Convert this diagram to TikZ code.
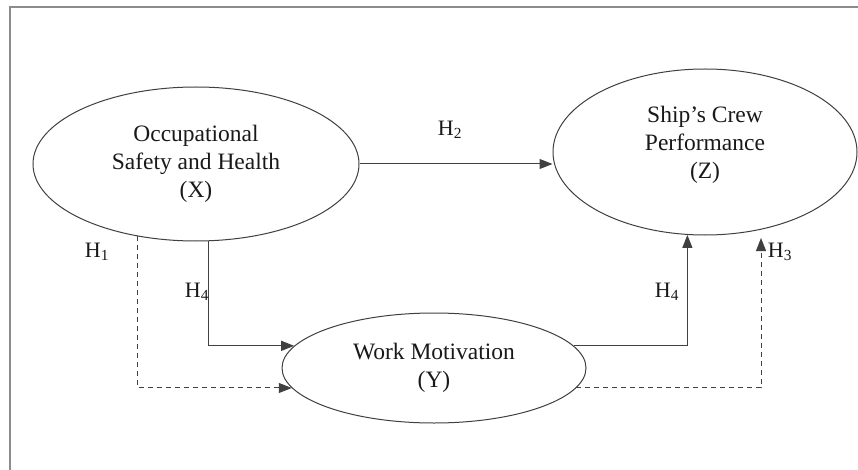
\documentclass[tikz,border=0pt]{standalone}
\usepackage{fontspec}
\setmainfont{Liberation Serif}
\usetikzlibrary{shapes.geometric,arrows.meta}

\tikzset{
  construct/.style={ellipse, draw=black!75, line width=1pt, inner sep=0pt,
    align=center, text=black!90, font=\fontsize{23.5}{28}\selectfont},
  caption/.style={align=center, text=black!90, inner sep=0pt,
    font=\fontsize{23.5}{28}\selectfont},
  link/.style={draw=black!75, line width=1pt,
    -{Triangle[length=13pt,width=10pt]}},
  linkdash/.style={link, dash pattern=on 5pt off 4pt},
  hyp/.style={text=black!90, font=\fontsize{22}{26}\selectfont, inner sep=0pt},
}

\begin{document}
\begin{tikzpicture}[x=1pt,y=-1pt]
  \useasboundingbox (0,0) rectangle (858,470);
  \fill[white] (0,0) rectangle (858,470);

  % open frame: top and left rules only
  \draw[black!45, line width=2pt] (10,470) -- (10,7) -- (858,7);

  % constructs
  \node[construct, minimum width=326pt, minimum height=154pt] (X) at (196,164)
    {Occupational\\Safety and Health\\(X)};
  \node[construct, minimum width=304pt, minimum height=166pt] (Z) at (705,152) {};
  \node[caption] (Ztext) at ([yshift=7pt]Z.center)
    {Ship's Crew\\Performance\\(Z)};
  \node[construct, minimum width=304pt, minimum height=110pt] (Y) at (434,368)
    {Work Motivation\\(Y)};

  \coordinate (h3end) at (761,238);

  % paths
  \draw[link] (X.east) -- (Z.west |- X.east);
  \draw[link] (X.-81) |- (Y.171);
  \draw[linkdash] (X.-129) |- (Y.188);
  \draw[link] (Y.9) -| (Z.-102);
  \draw[linkdash] (Y.-8) -| (h3end);

  % hypothesis labels
  \node[hyp] (h2) at (450,130) {H\textsubscript{2}};
  \node[hyp] (h1) at (97,252) {H\textsubscript{1}};
  \node[hyp] (h4a) at (197,292) {H\textsubscript{4}};
  \node[hyp] (h4b) at (667,292) {H\textsubscript{4}};
  \node[hyp] (h3) at (780,252) {H\textsubscript{3}};
\end{tikzpicture}
\end{document}
